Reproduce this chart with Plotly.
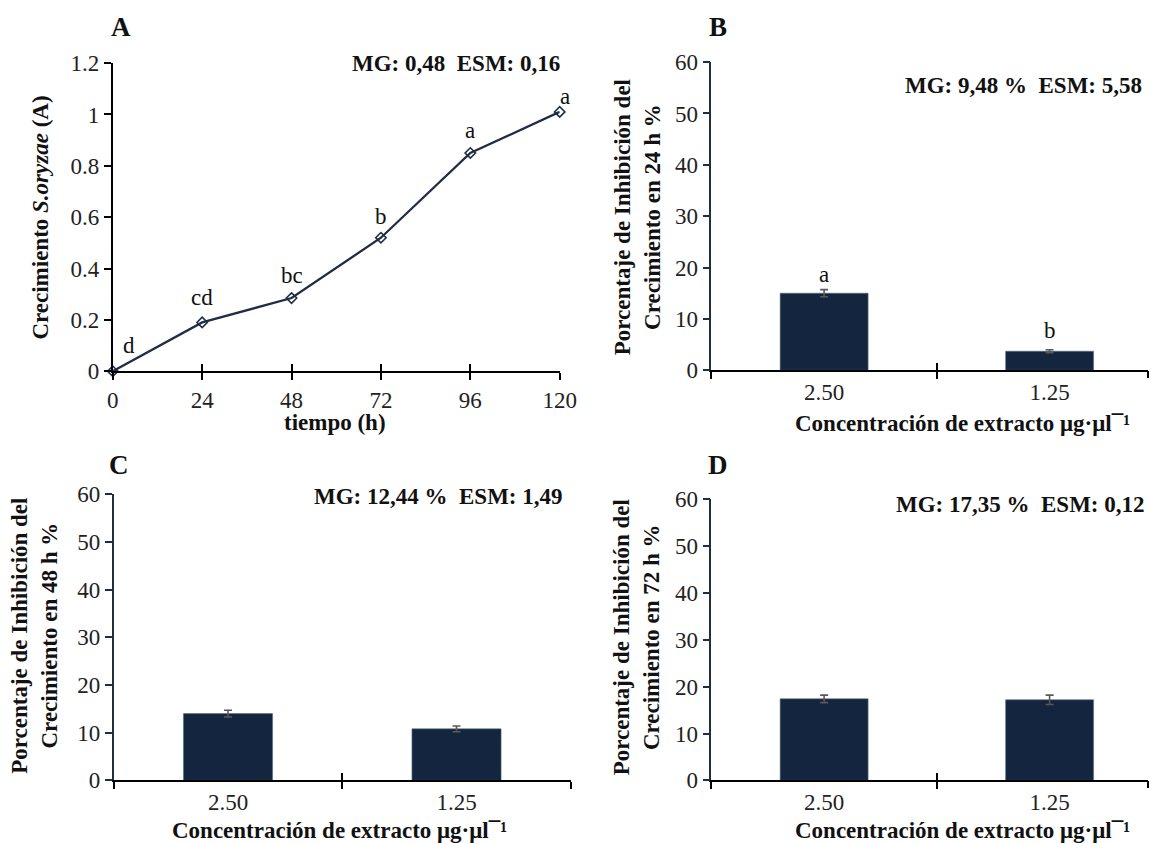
import plotly.graph_objects as go

W, H = 1166, 843

# ---- data ----
time_h = [0, 24, 48, 72, 96, 120]
growth = [0.0, 0.19, 0.285, 0.52, 0.85, 1.01]
growth_letters = ["d", "cd", "bc", "b", "a", "a"]

conc = ["2.50", "1.25"]
inh_24 = [15.0, 3.7]
err_24 = [0.7, 0.3]
letters_24 = ["a", "b"]
inh_48 = [14.0, 10.8]
err_48 = [0.7, 0.6]
inh_72 = [17.4, 17.2]
err_72 = [0.8, 1.0]

stats = {
    "A": "MG: 0,48  ESM: 0,16",
    "B": "MG: 9,48 %  ESM: 5,58",
    "C": "MG: 12,44 %  ESM: 1,49",
    "D": "MG: 17,35 %  ESM: 0,12",
}

FONT = "Liberation Serif, Times New Roman, serif"
NAVY = "#13253F"
LINE_NAVY = "#1F2D45"
TXT = "#111111"

# reference-pixel -> paper fraction (compensates the capture framing)
SX, OX = 0.976, 7.7
SY, OY = 0.970, 12.9
XMAX = SX * W + OX  # right-most reachable pixel

def px(x):
    return min(1.0, max(0.0, ((x - OX) / SX) / W))

def py(y):
    return min(1.0, max(0.0, 1 - ((y - OY) / SY) / H))

def cat_range(x0, x1):
    """category-axis range so that categories are spaced as on an axis x0..x1 (ref px)"""
    step = (x1 - x0) / 2.0
    end = min(x1, XMAX - 1)
    return [-0.5, (end - x0) / step - 0.5], [px(x0), px(end)]

fig = go.Figure()

# Panel A: line
fig.add_trace(go.Scatter(
    x=time_h, y=growth, mode="lines+markers",
    line=dict(color=LINE_NAVY, width=2.3),
    marker=dict(symbol="diamond-open", size=8, color=LINE_NAVY, line=dict(width=1.6)),
    xaxis="x", yaxis="y", cliponaxis=False, showlegend=False,
))

def bar(vals, errs, xa, ya):
    return go.Bar(
        x=conc, y=vals, width=0.39, marker=dict(color=NAVY, line=dict(color="#5a6b80", width=0.6)),
        error_y=dict(type="data", array=errs, color="#595959", thickness=1.6, width=4),
        xaxis=xa, yaxis=ya, showlegend=False,
    )

fig.add_trace(bar(inh_24, err_24, "x2", "y2"))
fig.add_trace(bar(inh_48, err_48, "x3", "y3"))
fig.add_trace(bar(inh_72, err_72, "x4", "y4"))

tickfont = dict(family=FONT, size=23, color="#222222")

domA_y = [py(372), py(64)]
domB_y = [py(371), py(63)]
domC_y = [py(781), py(495)]
domD_y = [py(781), py(500)]

rB, dB = cat_range(710, 1159)
rC, dC = cat_range(115, 570)
rD, dD = cat_range(710, 1159)

common_x = dict(showgrid=False, zeroline=False, showline=True, linecolor="black", linewidth=1.6,
                ticks="outside", ticklen=7, tickwidth=1.6, tickcolor="black", tickfont=tickfont)
common_y = dict(showgrid=False, zeroline=False, showline=True, linewidth=1.6,
                ticks="outside", ticklen=7, tickwidth=1.6, tickfont=tickfont)
# overlay axes give the crossing x ticks
over_x = dict(showgrid=False, zeroline=False, showline=False, ticklen=7,
              tickwidth=1.6, tickcolor="black", showticklabels=False, type="linear")

fig.update_layout(
    width=W, height=H, margin=dict(l=0, r=0, t=0, b=0),
    paper_bgcolor="white", plot_bgcolor="white",
    xaxis=dict(common_x, domain=[px(114), px(559)], range=[0, 120], tickvals=time_h, anchor="y"),
    yaxis=dict(common_y, domain=domA_y, range=[0, 1.2], dtick=0.2, linecolor="black", tickcolor="black", anchor="x"),
    xaxis2=dict(common_x, domain=dB, range=rB, type="category", tickson="boundaries", anchor="y2"),
    yaxis2=dict(common_y, domain=domB_y, range=[0, 60], dtick=10, linecolor=LINE_NAVY, tickcolor=LINE_NAVY, anchor="x2"),
    xaxis3=dict(common_x, domain=dC, range=rC, type="category", tickson="boundaries", anchor="y3"),
    yaxis3=dict(common_y, domain=domC_y, range=[0, 60], dtick=10, linecolor=LINE_NAVY, tickcolor=LINE_NAVY, anchor="x3"),
    xaxis4=dict(common_x, domain=dD, range=rD, type="category", tickson="boundaries", anchor="y4"),
    yaxis4=dict(common_y, domain=domD_y, range=[0, 60], dtick=10, linecolor=LINE_NAVY, tickcolor=LINE_NAVY, anchor="x4"),
    xaxis5=dict(over_x, overlaying="x", anchor="y", range=[0, 120], tickvals=time_h[1:], ticks="inside"),
    xaxis6=dict(over_x, overlaying="x2", anchor="y2", range=rB, tickvals=[0.5, min(1.5, rB[1])], ticks="inside"),
    xaxis7=dict(over_x, overlaying="x3", anchor="y3", range=rC, tickvals=[0.5, min(1.5, rC[1])], ticks="inside"),
    xaxis8=dict(over_x, overlaying="x4", anchor="y4", range=rD, tickvals=[0.5, min(1.5, rD[1])], ticks="inside"),
    xaxis9=dict(over_x, overlaying="x2", anchor="y2", range=rB, tickvals=[min(1.5, rB[1])], ticks="outside"),
    xaxis10=dict(over_x, overlaying="x4", anchor="y4", range=rD, tickvals=[min(1.5, rD[1])], ticks="outside"),
)

# invisible carriers so the overlay axes are drawn
for xa, ya, xr in [("x5", "y", [0, 120]), ("x6", "y2", rB), ("x7", "y3", rC), ("x8", "y4", rD),
                   ("x9", "y2", rB), ("x10", "y4", rD)]:
    fig.add_trace(go.Scatter(x=xr, y=[None, None], mode="markers", xaxis=xa, yaxis=ya,
                             showlegend=False, hoverinfo="skip"))

ann = []
bold = lambda s: f"<b>{s}</b>"

def paper_ann(text, x, y, size, **kw):
    d = dict(text=text, x=px(x), y=py(y), xref="paper", yref="paper", showarrow=False,
             xanchor="center", yanchor="middle", font=dict(family=FONT, size=size, color=TXT))
    d.update(kw)
    ann.append(d)

# panel letters
for letter, (x, y) in {"A": (122, 28), "B": (717, 28), "C": (120, 466), "D": (717, 466)}.items():
    paper_ann(bold(letter), x, y, 27)

# stats annotations (right-aligned)
for key, (x, y) in {"A": (561, 64), "B": (1141, 86), "C": (564, 497), "D": (1144, 505)}.items():
    paper_ann(bold(stats[key]), x, y, 23, xanchor="right")

# x-axis titles
xt = "Concentración de extracto μg·μl¯¹"
for text, (x, y) in [("tiempo (h)", (335, 423)), (xt, (960, 424)), (xt, (340, 833)), (xt, (960, 833))]:
    paper_ann(bold(text), x, y, 23)

# y-axis titles
yA = "<b>Crecimiento <i>S.oryzae</i> (A)</b>"
yt = lambda h: f"<b>Porcentaje de Inhibición del<br>Crecimiento en {h} h %</b>"
for text, (x, y) in [(yA, (42, 218)), (yt(24), (636, 218)), (yt(48), (36, 636)), (yt(72), (635, 638))]:
    paper_ann(text, x, y, 23, textangle=-90)

# significance letters, panel A (label offsets in pixels)
shiftsA = [(16, 26), (0, 25), (0, 23), (0, 21), (0, 22), (5, 15)]
for t, g, l, (dx, dy) in zip(time_h, growth, growth_letters, shiftsA):
    ann.append(dict(text=l, x=t, y=g, xref="x", yref="y", yanchor="middle", yshift=dy, xshift=dx,
                    showarrow=False, font=dict(family=FONT, size=23, color=TXT)))

# significance letters, panel B
shiftsB = [15, 19]
for i, (v, e, l) in enumerate(zip(inh_24, err_24, letters_24)):
    ann.append(dict(text=l, x=i, y=v + e, xref="x2", yref="y2", yanchor="middle", yshift=shiftsB[i],
                    showarrow=False, font=dict(family=FONT, size=23, color=TXT)))

fig.update_layout(annotations=ann)
fig.write_html(
    "out.html",
    config={"displayModeBar": False},
    post_script="document.body.style.margin='0';document.documentElement.style.overflow='hidden';document.body.style.overflow='hidden';",
)
